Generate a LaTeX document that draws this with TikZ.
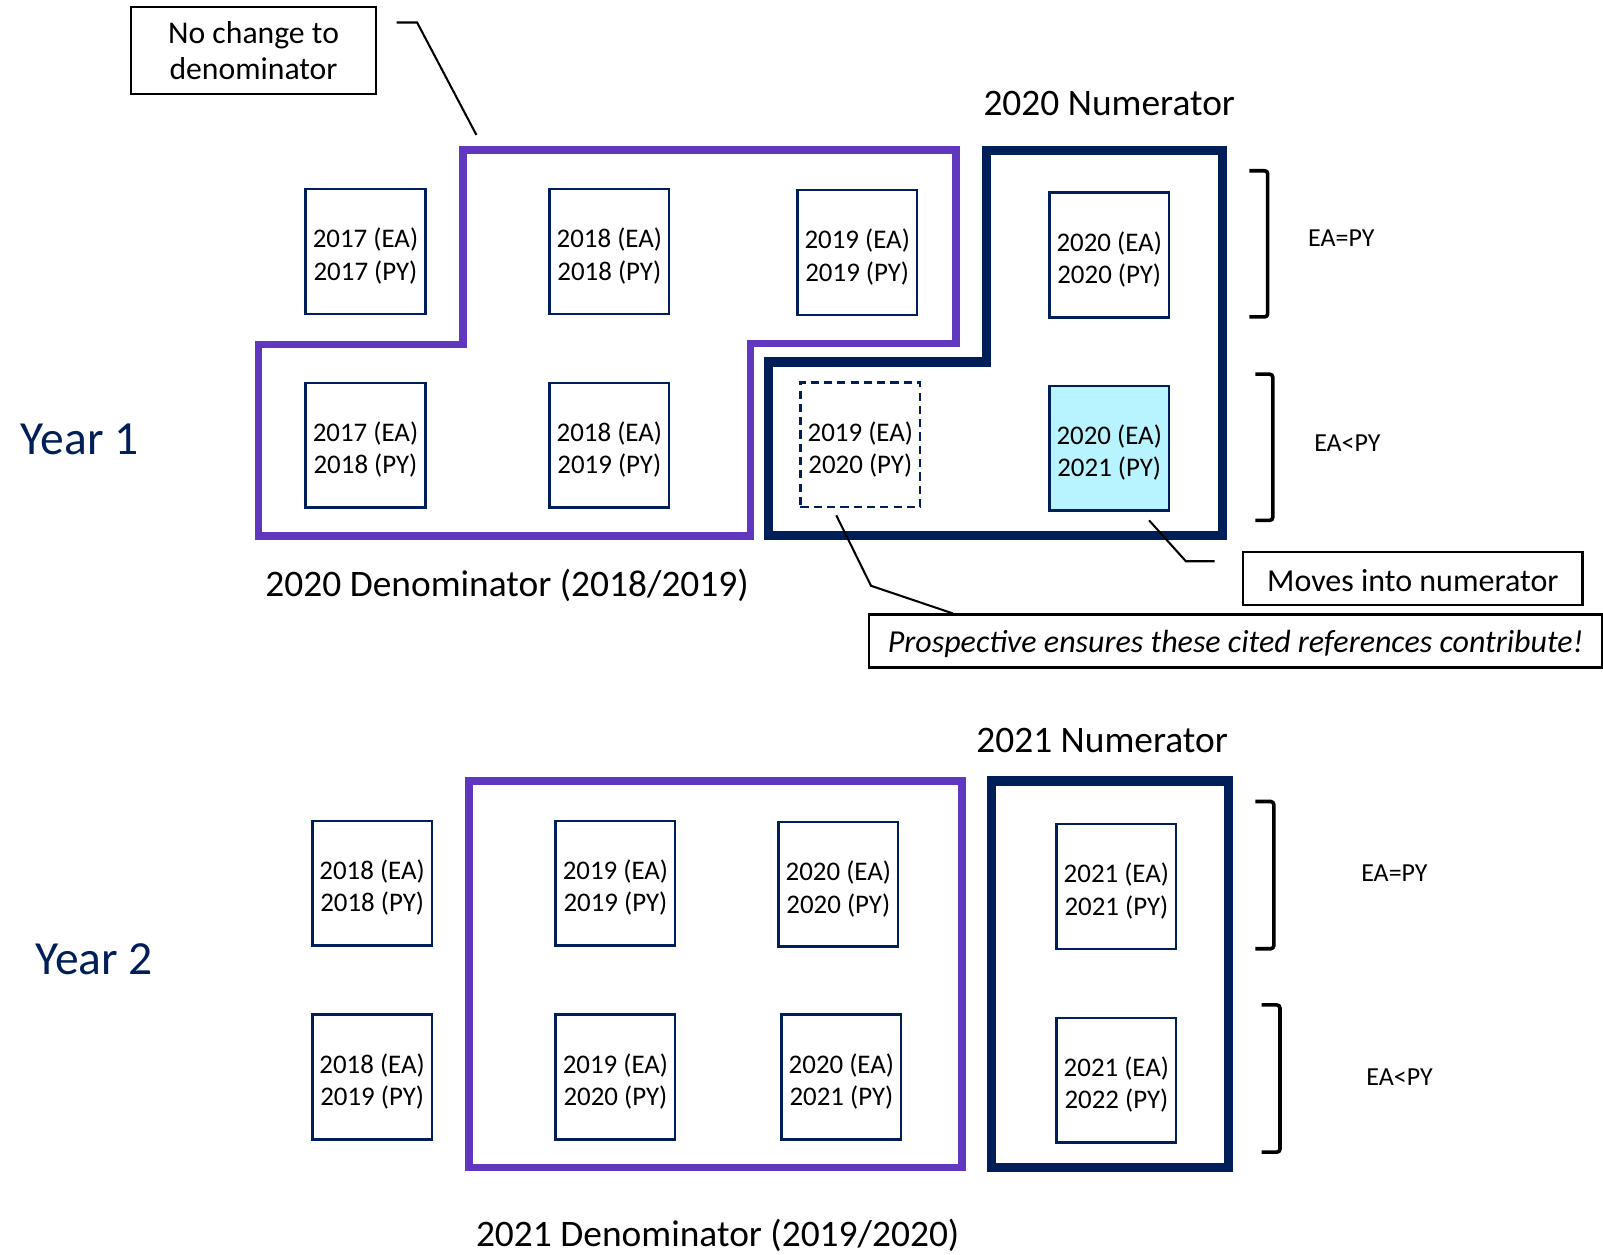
\documentclass[tikz,border=0pt]{standalone}
\usepackage{fontspec}
\setmainfont{Carlito}
\definecolor{navy}{RGB}{0,30,88}
\definecolor{purp}{RGB}{96,56,192}
\definecolor{cyanfill}{RGB}{184,244,255}
\newcommand{\yrtext}[2]{\raisebox{-6pt}[\height][\depth]{\begin{tabular}{@{}c@{}}#1\\#2\end{tabular}}}
\tikzset{
  yrbox/.style={draw=navy, line width=2.4pt, minimum width=117pt, minimum height=122pt,
    inner sep=0pt, align=center, font=\fontsize{26.3}{31.5}\selectfont},
  dashbox/.style={yrbox, dash pattern=on 8pt off 5pt},
  hilite/.style={yrbox, fill=cyanfill},
  callout/.style={draw=black, line width=2.2pt, inner sep=0pt},
  callouttxt/.style={inner sep=0pt, font=\fontsize{31.3}{36}\selectfont},
  calloutline/.style={draw=black, line width=2pt},
  denom/.style={draw=purp, line width=7.5pt, line join=miter},
  numer/.style={draw=navy, line width=9pt, line join=miter},
  brack/.style={draw=black, line width=3.5pt, rounded corners=3pt},
  headtxt/.style={font=\fontsize{36.6}{42}\selectfont, inner sep=0pt},
  yeartxt/.style={font=\fontsize{46.5}{52}\selectfont, text=navy, inner sep=0pt},
  eatxt/.style={font=\fontsize{25.4}{30}\selectfont, inner sep=0pt}
}
\begin{document}
\begin{tikzpicture}[x=1pt,y=-1pt]
\useasboundingbox (0,0) rectangle (1568,1227);

% ---------------- Year 1 ----------------
\draw[denom] (253,524) -- (253,337) -- (453,337) -- (453,147) -- (935,147) -- (935,336) -- (734,336) -- (734,524) -- cycle;
\draw[numer] (752,524) -- (752,354) -- (965,354) -- (965,147) -- (1196,147) -- (1196,524) -- cycle;

\node[yrbox] (a1) at (357.5,246) {\yrtext{2017 (EA)}{2017 (PY)}};
\node[yrbox] (a2) at (596,246) {\yrtext{2018 (EA)}{2018 (PY)}};
\node[yrbox] (a3) at (838.5,247) {\yrtext{2019 (EA)}{2019 (PY)}};
\node[yrbox] (a4) at (1085,249.5) {\yrtext{2020 (EA)}{2020 (PY)}};
\node[yrbox] (b1) at (357.5,435.5) {\yrtext{2017 (EA)}{2018 (PY)}};
\node[yrbox] (b2) at (596,435.5) {\yrtext{2018 (EA)}{2019 (PY)}};
\node[dashbox] (b3) at (841.5,435) {\yrtext{2019 (EA)}{2020 (PY)}};
\node[hilite] (b4) at (1085,438.5) {\yrtext{2020 (EA)}{2021 (PY)}};

\draw[brack] (1222,167) -- (1240,167) -- (1240,310) -- (1222,310);
\draw[brack] (1228,366) -- (1245,366) -- (1245,509) -- (1228,509);
\node[eatxt] (eq1) at (1312,233) {EA=PY};
\node[eatxt] (lt1) at (1318,433) {EA<PY};

\node[headtxt] (num1) at (1085,101) {2020 Numerator};
\node[headtxt] (den1) at (496,573) {2020 Denominator (2018/2019)};
\node[yeartxt] (yr1) at (78,430) {Year 1};

\node[callout, minimum width=240pt, minimum height=85pt] (nochg) at (248,49.5) {};
\node[callouttxt, font=\fontsize{31}{36}\selectfont, align=center] (nochgtxt) at (nochg.center) {No change to\\denominator};
\node[callout, minimum width=332pt, minimum height=52pt] (moves) at (1382,566) {};
\node[callouttxt, yshift=-1.5pt] (movestxt) at (moves.center) {Moves into numerator};
\node[callout, minimum width=717pt, minimum height=52pt] (prosp) at (1208.5,627) {};
\node[callouttxt, font=\fontsize{31.3}{36}\itshape\selectfont, yshift=-2.5pt] (prosptxt) at (prosp.center) {Prospective ensures these cited references contribute!};

\coordinate (nc0) at (388,22);
\coordinate (nc1) at (408,22);
\coordinate (nc2) at (466,132);
\draw[calloutline] (nc0) -- (nc1) -- (nc2);

\coordinate (mv0) at (1124,509);
\coordinate (mv1) at (1160,549);
\coordinate (mv2) at (1188,549);
\draw[calloutline] (mv0) -- (mv1) -- (mv2);

\coordinate (pr0) at (818,504);
\coordinate (pr1) at (852,573);
\coordinate (pr2) at (932,600);
\draw[calloutline] (pr0) -- (pr1) -- (pr2);

% ---------------- Year 2 ----------------
\draw[denom] (459,764) rectangle (941,1142);
\draw[numer] (970,764) rectangle (1202,1142);

\node[yrbox] (c1) at (364,864) {\yrtext{2018 (EA)}{2018 (PY)}};
\node[yrbox] (c2) at (602,864) {\yrtext{2019 (EA)}{2019 (PY)}};
\node[yrbox] (c3) at (820,865) {\yrtext{2020 (EA)}{2020 (PY)}};
\node[yrbox] (c4) at (1092,867) {\yrtext{2021 (EA)}{2021 (PY)}};
\node[yrbox] (d1) at (364,1053.5) {\yrtext{2018 (EA)}{2019 (PY)}};
\node[yrbox] (d2) at (602,1053.5) {\yrtext{2019 (EA)}{2020 (PY)}};
\node[yrbox] (d3) at (823,1053.5) {\yrtext{2020 (EA)}{2021 (PY)}};
\node[yrbox] (d4) at (1092,1056.5) {\yrtext{2021 (EA)}{2022 (PY)}};

\draw[brack] (1228,784) -- (1246,784) -- (1246,928) -- (1228,928);
\draw[brack] (1234,983) -- (1252,983) -- (1252,1127) -- (1234,1127);
\node[eatxt] (eq2) at (1364,854) {EA=PY};
\node[eatxt] (lt2) at (1369,1054) {EA<PY};

\node[headtxt] (num2) at (1078,724) {2021 Numerator};
\node[headtxt] (den2) at (702,1208) {2021 Denominator (2019/2020)};
\node[yeartxt] (yr2) at (92,938) {Year 2};
\end{tikzpicture}
\end{document}
